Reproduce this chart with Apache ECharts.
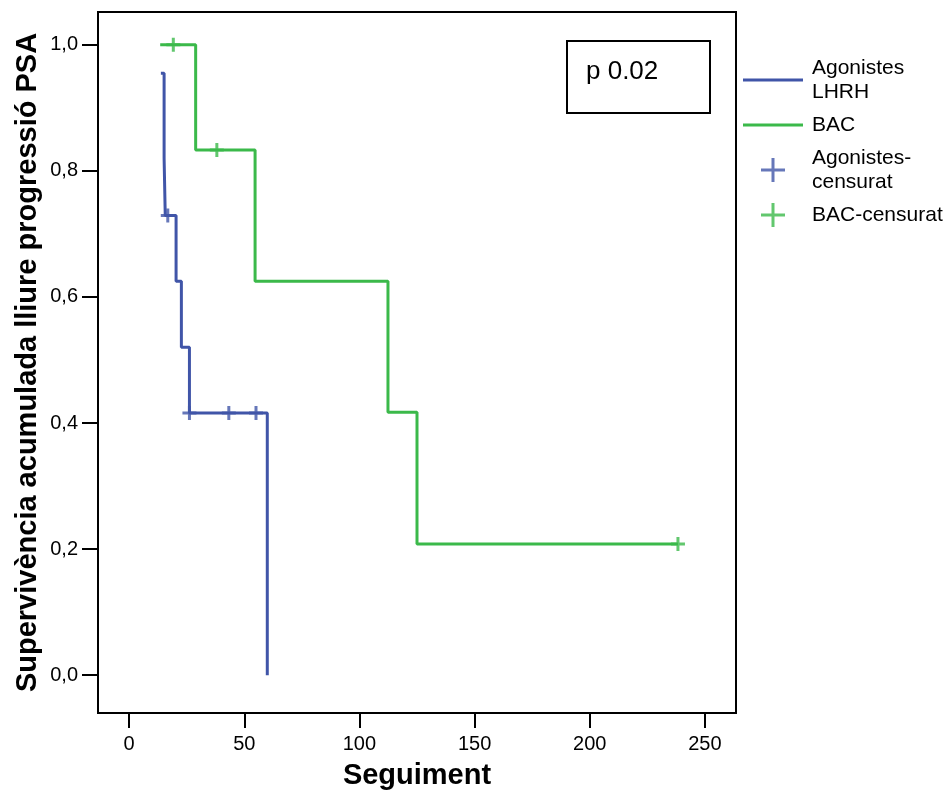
<!DOCTYPE html>
<html>
<head>
<meta charset="utf-8">
<script src="https://cdn.jsdelivr.net/npm/echarts@6/dist/echarts.min.js"></script>
<style>
  html, body { margin: 0; padding: 0; background: #fff; }
  #chart { width: 951px; height: 798px; }
</style>
</head>
<body>
<div id="chart"></div>
<script>
// Kaplan-Meier steps (time in months, cumulative survival)
const blueTimes = [13.8, 15.2, 15.7, 20.4, 22.7, 26.2, 60.0];
const blueSurv = [0.955, 0.82, 0.729, 0.625, 0.52, 0.416, 0.0];
const greenTimes = [13.5, 28.9, 54.7, 112.4, 125.0, 238.3];
const greenSurv = [1.0, 0.833, 0.625, 0.417, 0.208, 0.208];

// censored cases
const blueCensTimes = [16.8, 26.2, 43.3, 55.1];
const blueCensSurv = [0.729, 0.416, 0.416, 0.416];
const greenCensTimes = [19.2, 38.1, 238.3];
const greenCensSurv = [1.0, 0.833, 0.208];

const xTicks = [0, 50, 100, 150, 200, 250];
const yTicks = [0, 0.2, 0.4, 0.6, 0.8, 1.0];

const seriesNames = ['Agonistes\nLHRH', 'BAC', 'Agonistes-\ncensurat', 'BAC-censurat'];

const BLUE = '#4055a8';
const GREEN = '#3bb94a';
const FONT = '"Liberation Sans", Arial, sans-serif';

const zip = (a, b) => a.map((v, i) => [v, b[i]]);
// "+" marks: bigger one for the legend, smaller one for the plot
const plusIcon = 'path://M10.5,0 H13.5 V24 H10.5 Z M0,10.5 H24 V13.5 H0 Z';
const plusMark = 'path://M5.5,0 H8.5 V14 H5.5 Z M0,5.5 H14 V8.5 H0 Z';
const lineIcon = 'path://M0,0 H60 V3 H0 Z';

const chart = echarts.init(document.getElementById('chart'), null, { renderer: 'canvas' });

const option = {
  animation: false,
  backgroundColor: '#fff',
  grid: {
    left: 98, right: 215, top: 12, bottom: 85,
    show: true, borderColor: '#000', borderWidth: 2
  },
  xAxis: {
    type: 'value',
    min: -13.5, max: 263.5,
    name: 'Seguiment',
    nameLocation: 'middle',
    nameGap: 48,
    nameMoveOverlap: false,
    nameTextStyle: { fontFamily: FONT, fontSize: 29, fontWeight: 'bold', color: '#000' },
    axisLine: { show: true, onZero: false, lineStyle: { color: '#000', width: 2 } },
    axisTick: { show: true, customValues: xTicks, length: 15, lineStyle: { color: '#000', width: 2 } },
    axisLabel: { customValues: xTicks, margin: 21, fontFamily: FONT, fontSize: 20, color: '#000' },
    splitLine: { show: false }
  },
  yAxis: {
    type: 'value',
    min: -0.06, max: 1.052,
    name: 'Supervivència acumulada lliure progressió PSA',
    nameLocation: 'middle',
    nameGap: 56,
    nameMoveOverlap: false,
    nameTextStyle: { fontFamily: FONT, fontSize: 29, fontWeight: 'bold', color: '#000' },
    axisLine: { show: true, onZero: false, lineStyle: { color: '#000', width: 2 } },
    axisTick: { show: true, customValues: yTicks, length: 16, lineStyle: { color: '#000', width: 2 } },
    axisLabel: {
      customValues: yTicks, margin: 20, fontFamily: FONT, fontSize: 20, color: '#000',
      formatter: v => v.toFixed(1).replace('.', ',')
    },
    splitLine: { show: false }
  },
  legend: {
    orient: 'vertical',
    left: 743, top: 56, padding: 0,
    itemWidth: 60, itemHeight: 24, itemGap: 9,
    textStyle: { fontFamily: FONT, fontSize: 21, lineHeight: 24, color: '#000', padding: [0, 0, 0, 4] },
    data: [
      { name: seriesNames[0], icon: lineIcon },
      { name: seriesNames[1], icon: lineIcon },
      { name: seriesNames[2], icon: plusIcon },
      { name: seriesNames[3], icon: plusIcon }
    ]
  },
  graphic: [
    {
      type: 'rect', left: 566, top: 40,
      shape: { width: 143, height: 72 },
      style: { fill: '#fff', stroke: '#000', lineWidth: 2 }
    },
    {
      type: 'text', left: 586, top: 59,
      style: { text: 'p 0.02', font: '26px ' + FONT, fill: '#000' }
    }
  ],
  series: [
    {
      name: seriesNames[0], type: 'line', step: 'end', showSymbol: false,
      color: BLUE, lineStyle: { width: 3, color: BLUE },
      data: zip(blueTimes, blueSurv)
    },
    {
      name: seriesNames[1], type: 'line', step: 'end', showSymbol: false,
      color: GREEN, lineStyle: { width: 3, color: GREEN },
      data: zip(greenTimes, greenSurv)
    },
    {
      name: seriesNames[2], type: 'scatter', symbol: plusMark, symbolSize: 14,
      itemStyle: { color: BLUE }, z: 3,
      data: zip(blueCensTimes, blueCensSurv)
    },
    {
      name: seriesNames[3], type: 'scatter', symbol: plusMark, symbolSize: 14,
      itemStyle: { color: GREEN }, z: 3,
      data: zip(greenCensTimes, greenCensSurv)
    }
  ]
};

chart.setOption(option);
</script>
</body>
</html>
